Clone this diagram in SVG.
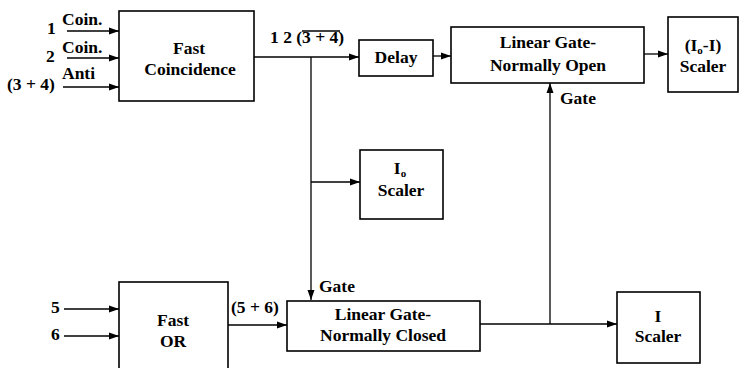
<svg xmlns="http://www.w3.org/2000/svg" width="742" height="368" viewBox="0 0 742 368">
  <defs>
    <marker id="arr" viewBox="0 0 10 8" refX="10" refY="4" markerWidth="10" markerHeight="8" markerUnits="userSpaceOnUse" orient="auto">
      <path d="M0,0.5 L10,4 L0,7.5 Z" fill="#000"/>
    </marker>
    <style>
      rect { fill: #fff; stroke: #000; stroke-width: 1.6; }
      .ln { fill: none; stroke: #000; stroke-width: 1.3; }
      .ar { marker-end: url(#arr); }
      text { font-family: "Liberation Serif", "Times New Roman", serif; font-weight: bold; font-size: 17.5px; fill: #000; }
      .m { text-anchor: middle; font-size: 17.5px; }
      .sub { font-size: 11px; }
    </style>
  </defs>

  <!-- connectors -->
  <g id="connectors">
    <line class="ln ar" x1="67" y1="31" x2="119" y2="31"/>
    <line class="ln ar" x1="67" y1="58" x2="119" y2="58"/>
    <line class="ln ar" x1="63" y1="87" x2="119" y2="87"/>
    <line class="ln ar" x1="254" y1="57" x2="359" y2="57"/>
    <line class="ln ar" x1="433" y1="56" x2="451" y2="56"/>
    <line class="ln ar" x1="644" y1="54" x2="668" y2="54"/>
    <line class="ln ar" x1="311" y1="57" x2="311" y2="300"/>
    <line class="ln ar" x1="311" y1="182" x2="360" y2="182"/>
    <line class="ln ar" x1="64" y1="309" x2="119" y2="309"/>
    <line class="ln ar" x1="64" y1="336" x2="119" y2="336"/>
    <line class="ln ar" x1="228" y1="325" x2="287" y2="325"/>
    <line class="ln ar" x1="480" y1="324" x2="617" y2="324"/>
    <line class="ln ar" x1="550" y1="324" x2="550" y2="83"/>
  </g>

  <!-- signal labels -->
  <g id="labels">
    <text x="47" y="34">1</text>
    <text x="62" y="25">Coin.</text>
    <text x="46" y="62">2</text>
    <text x="62" y="53">Coin.</text>
    <text x="7" y="90">(3 + 4)</text>
    <text x="62" y="79">Anti</text>
    <text x="270" y="43">1 2 (3 + 4)</text>
    <line class="ln" x1="302" y1="31" x2="340" y2="31"/>
    <text x="560" y="104">Gate</text>
    <text x="51" y="313">5</text>
    <text x="51" y="340">6</text>
    <text x="231" y="313">(5 + 6)</text>
    <text x="319" y="292">Gate</text>
  </g>

  <g id="fast-coincidence">
    <rect x="119" y="11" width="135" height="90"/>
    <text class="m" x="189" y="54">Fast</text>
    <text class="m" x="190" y="75">Coincidence</text>
  </g>

  <g id="delay">
    <rect x="359" y="40" width="74" height="36"/>
    <text class="m" x="396" y="63">Delay</text>
  </g>

  <g id="gate-open">
    <rect x="451" y="27" width="193" height="56"/>
    <text class="m" x="548" y="48">Linear Gate-</text>
    <text class="m" x="548" y="71">Normally Open</text>
  </g>

  <g id="scaler-io-i">
    <rect x="668" y="17" width="70" height="75"/>
    <text class="m" x="703" y="51">(I<tspan class="sub" dy="3">o</tspan><tspan dy="-3">-I)</tspan></text>
    <text class="m" x="703" y="72">Scaler</text>
  </g>

  <g id="scaler-io">
    <rect x="360" y="150" width="83" height="69"/>
    <text class="m" x="400" y="174">I<tspan class="sub" dy="3">o</tspan></text>
    <text class="m" x="401" y="196">Scaler</text>
  </g>

  <g id="fast-or">
    <rect x="119" y="282" width="109" height="96"/>
    <text class="m" x="173" y="326">Fast</text>
    <text class="m" x="173" y="347">OR</text>
  </g>

  <g id="gate-closed">
    <rect x="287" y="301" width="193" height="50"/>
    <text class="m" x="383" y="320">Linear Gate-</text>
    <text class="m" x="383" y="341">Normally Closed</text>
  </g>

  <g id="scaler-i">
    <rect x="617" y="292" width="83" height="71"/>
    <text class="m" x="658" y="322">I</text>
    <text class="m" x="658" y="342">Scaler</text>
  </g>
</svg>
